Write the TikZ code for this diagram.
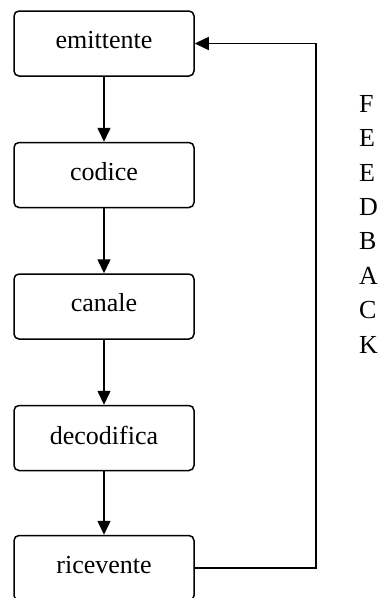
\documentclass[tikz,border=0pt]{standalone}
\usepackage{fontspec}
\setmainfont{Liberation Serif}
\usetikzlibrary{arrows.meta}
\begin{document}
\begin{tikzpicture}[x=1pt,y=-1pt,
  box/.style={draw,line width=1.5pt,rounded corners=5pt,minimum width=180pt,minimum height=65pt,inner sep=0pt},
  lbl/.style={font=\fontsize{26}{30}\selectfont},
  conn/.style={line width=1.5pt,-{Triangle[length=14pt,width=13pt]}},
  letter/.style={anchor=base west,inner sep=0pt,font=\fontsize{26}{30}\selectfont}]
\useasboundingbox (0,0) rectangle (383,598);
\node[box] (em) at (104,43.5) {};
\node[box] (co) at (104,175) {};
\node[box] (ca) at (104,306.5) {};
\node[box] (de) at (104,438) {};
\node[box] (ri) at (104,568) {};
\node[lbl] (tem) at (104,40) {emittente};
\node[lbl] (tco) at (104,172) {codice};
\node[lbl] (tca) at (104,303) {canale};
\node[lbl] (tde) at (104,435) {decodifica};
\node[lbl] (tri) at (104,565) {ricevente};
\draw[conn] (em) -- (co);
\draw[conn] (co) -- (ca);
\draw[conn] (ca) -- (de);
\draw[conn] (de) -- (ri);
\coordinate (c1) at (316,568);
\coordinate (c2) at (316,43.5);
\draw[conn] (ri.east) -- (c1) -- (c2) -- (em.east);
\node[letter] (l1) at (359,112) {F};
\node[letter] (l2) at (359,146.5) {E};
\node[letter] (l3) at (359,181) {E};
\node[letter] (l4) at (359,215) {D};
\node[letter] (l5) at (359,249.5) {B};
\node[letter] (l6) at (359,284) {A};
\node[letter] (l7) at (359,318.5) {C};
\node[letter] (l8) at (359,353) {K};
\end{tikzpicture}
\end{document}
